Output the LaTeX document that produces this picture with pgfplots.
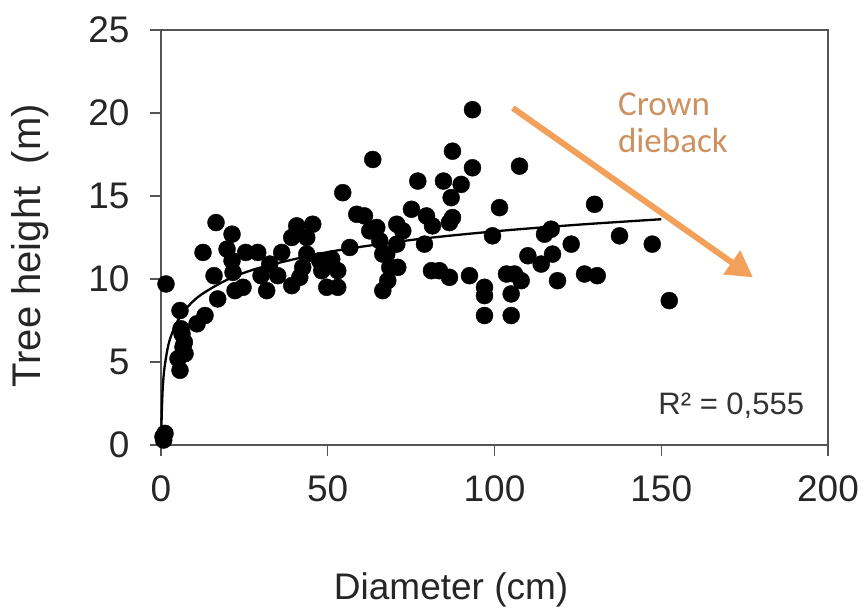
\documentclass[border=0pt]{standalone}
\usepackage{pgfplots}
\pgfplotsset{compat=1.18}
\usepackage{fontspec}
\setmainfont{Liberation Sans}
\newfontfamily\calibri{Carlito}
\usetikzlibrary{arrows.meta}
\definecolor{axgray}{RGB}{85,85,85}
\definecolor{crowntext}{RGB}{205,145,95}
\definecolor{crownarrow}{RGB}{242,160,90}
\begin{document}
\begin{tikzpicture}
\useasboundingbox (-161pt,-165pt) rectangle (704pt,445pt);
\begin{axis}[
  scale only axis,
  width=667pt, height=415pt,
  xmin=0, xmax=200, ymin=0, ymax=25,
  xtick={0,50,100,150,200},
  ytick={0,5,10,15,20,25},
  tick pos=left,
  tick align=outside,
  major tick length=11pt,
  axis line style={axgray, line width=1.8pt},
  tick style={axgray, line width=1.5pt},
  /pgf/number format/assume math mode=true,
  tick label style={font=\fontsize{37}{40}\selectfont, text=black!85},
  xticklabel style={yshift=-16pt},
  yticklabel style={xshift=-17pt},
  label style={font=\fontsize{37}{40}\selectfont, text=black!85},
  xlabel={Diameter (cm)},
  ylabel={Tree height\ \ (m)},
  xlabel style={at={(axis description cs:0.435,0)}, anchor=center, yshift=-145pt},
  ylabel style={at={(axis description cs:0,0.48)}, anchor=center, yshift=131pt,
    font=\fontsize{40}{44}\selectfont},
  clip=false,
]
\addplot[only marks, mark=*, mark size=8.5pt, black] coordinates {
(0.8,0.3) (1.2,0.7) (0.6,0.5)
(1.5,9.7) (5.7,8.1) (6.3,6.7) (6.6,5.9) (5.1,5.2) (5.7,4.5) (7,6.2) (6,7.0) (7.2,5.5)
(10.8,7.3) (13.2,7.8) (17,8.8) (12.6,11.6) (16.5,13.4) (15.9,10.2) (21.3,12.7)
(19.8,11.8) (21.3,11.1) (21.6,10.4) (22.2,9.3) (24.6,9.5) (25.4,11.6) (29,11.6)
(30,10.2) (31.7,9.3) (32.6,10.9) (35,10.2) (36.2,11.6) (39.2,12.5) (40.7,13.2)
(43.7,12.5) (45.5,13.3) (39.2,9.6) (41.6,10.1) (42.5,10.7) (43.7,11.5) (47.6,11.1)
(48.2,10.5) (49.7,9.5) (53,9.5) (53,10.5) (51.2,11.2) (54.5,15.2) (63.5,17.2)
(58.7,13.9) (61,13.8) (56.6,11.9) (62.6,12.9) (64.7,13.1) (65.6,12.3) (67.7,11.5)
(66.5,9.3) (93.4,20.2) (87.4,17.7) (93.4,16.7) (107.5,16.8) (77,15.9) (84.7,15.9)
(90,15.7) (87,14.9) (75.1,14.2) (101.5,14.3) (130,14.5) (79.6,13.8) (81.4,13.2)
(87.4,13.7) (86.5,13.4) (70.7,13.3) (72.5,12.9) (70.7,12.1) (66.5,11.5) (79,12.1)
(99.4,12.6) (115,12.7) (117,13.0) (123,12.1) (110,11.4) (114,10.9) (117.4,11.5)
(118.9,9.9) (127,10.3) (130.8,10.2) (68.6,10.7) (71,10.7) (68,9.9) (81.1,10.5)
(83.5,10.5) (86.5,10.1) (92.5,10.2) (97,9.5) (97,9.0) (97,7.8) (103.6,10.3)
(106,10.3) (108,9.9) (105,9.1) (105,7.8) (137.5,12.6) (147.3,12.1) (152.4,8.7)
};
\addplot[black, line width=2.3pt, smooth] coordinates {
(0.1,0.43) (0.2,1.68) (0.5,3.33) (1,4.58) (2,5.83) (3,6.56) (5,7.48) (8,8.32)
(12,9.05) (20,9.97) (30,10.70) (50,11.62) (75,12.35) (100,12.87) (125,13.27) (150,13.6)
};
\draw[crownarrow, line width=6pt, -{Triangle[length=26pt,width=28pt]}]
  (axis cs:105.5,20.3) -- (axis cs:177.5,10.1);
\node[anchor=north west, align=left, text=crowntext, inner sep=0pt,
  font=\calibri\fontsize{35}{37}\selectfont] at (axis cs:137,21.2) {Crown\\dieback};
\node[anchor=center, text=black!80, font=\fontsize{31}{34}\selectfont]
  at (axis cs:171,2.35) {R² = 0,555};
\end{axis}
\end{tikzpicture}
\end{document}
